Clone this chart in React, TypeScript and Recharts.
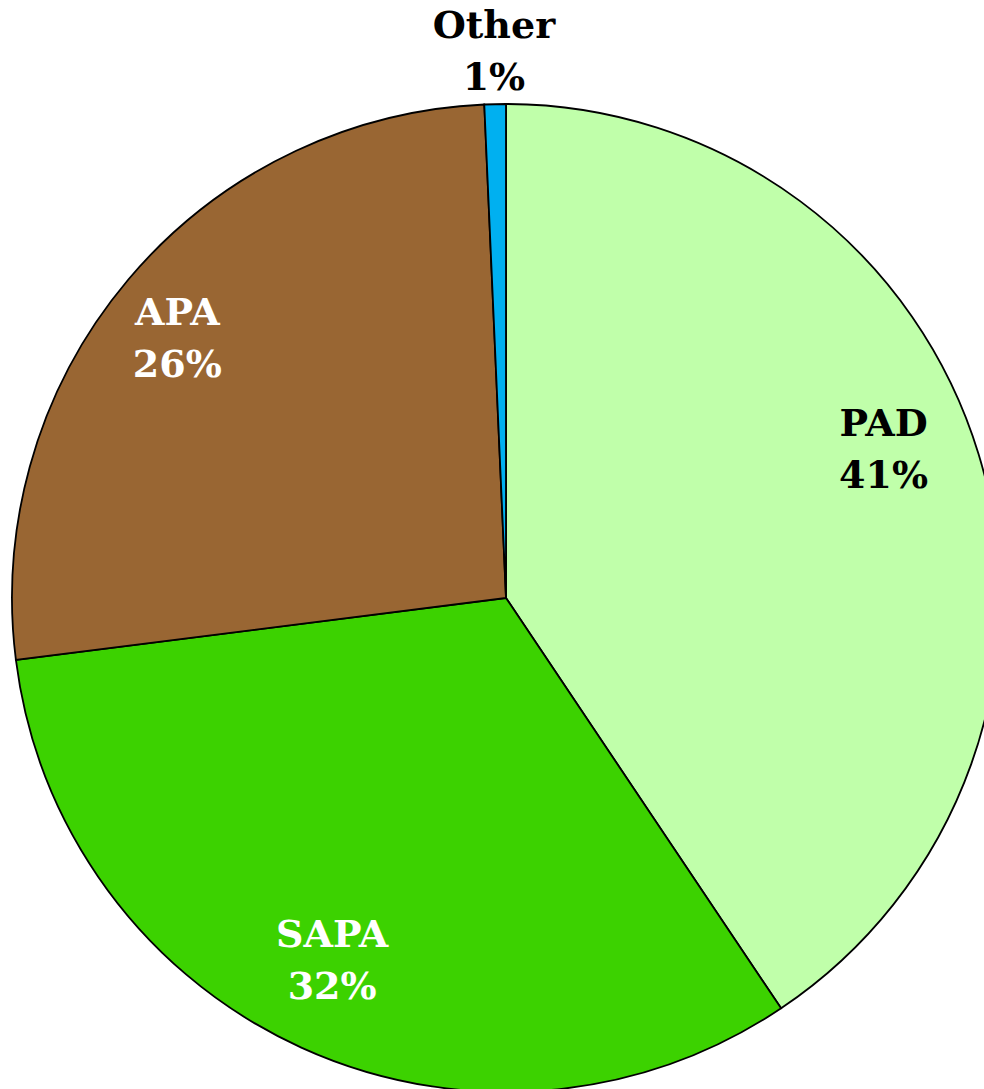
import { Cell, Pie, PieChart } from "recharts";

const categories = ["PAD", "SAPA", "APA", "Other"];
const shares = [40.6, 32.4, 26.3, 0.7];
const percentLabels = ["41%", "32%", "26%", "1%"];
const colors = ["#C0FFAA", "#3CD200", "#996633", "#00B0F0"];
const labelColors = ["#000000", "#ffffff", "#ffffff", "#000000"];

const data = categories.map((name, i) => ({ name, value: shares[i], pct: percentLabels[i] }));

const RADIAN = Math.PI / 180;
// small hand tweaks so labels sit where the original placed them
const labelNudge: Record<string, [number, number]> = {
  PAD: [-10, -32],
  SAPA: [-6, -8],
  APA: [-19, 0],
  Other: [0, 0],
};

function renderLabel(props: any) {
  const { cx, cy, midAngle, outerRadius, index } = props;
  const name = categories[index];
  const outside = name === "Other";
  const r = outside ? outerRadius * 1.11 : outerRadius * 0.82;
  const [nx, ny] = labelNudge[name];
  const x = cx + r * Math.cos(-midAngle * RADIAN) + nx;
  const y = cy + r * Math.sin(-midAngle * RADIAN) + ny;
  return (
    <text
      x={x}
      y={y}
      fill={labelColors[index]}
      textAnchor="middle"
      fontFamily="'DejaVu Serif', serif"
      fontWeight="bold"
      fontSize={38}
    >
      <tspan x={x} dy={-12}>{name}</tspan>
      <tspan x={x} dy={52}>{percentLabels[index]}</tspan>
    </text>
  );
}

export default function App() {
  return (
    <div style={{ position: "absolute", left: 0, top: 0, width: 984, height: 1089, background: "#fff", overflow: "hidden" }}>
      <PieChart width={984} height={1089} margin={{ top: 0, right: 0, bottom: 0, left: 0 }}>
        <Pie
          data={data}
          dataKey="value"
          nameKey="name"
          cx={506}
          cy={598}
          outerRadius={494}
          startAngle={90}
          endAngle={-270}
          stroke="#000"
          strokeWidth={1.8}
          label={renderLabel}
          labelLine={false}
          isAnimationActive={false}
        >
          {data.map((d, i) => (
            <Cell key={d.name} fill={colors[i]} />
          ))}
        </Pie>
      </PieChart>
    </div>
  );
}
